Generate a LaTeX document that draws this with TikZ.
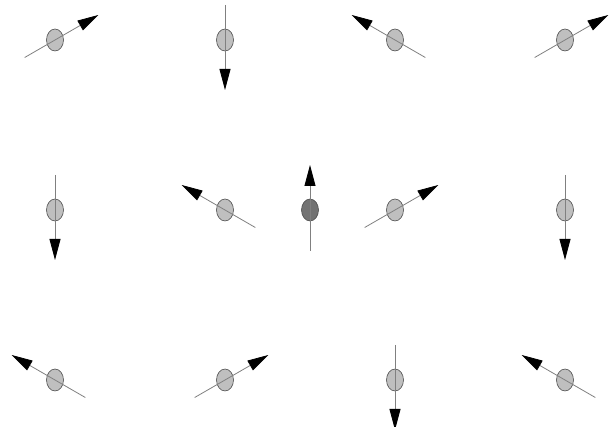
\documentclass[tikz,border=0pt]{standalone}
\usetikzlibrary{arrows.meta, shapes.geometric}
\begin{document}
\begin{tikzpicture}[
    x=1pt, y=1pt,
    site/.style={draw=black!70, ellipse, fill=black!25, minimum width=17pt,
                 minimum height=22pt, inner sep=0pt, line width=0.6pt},
    centre/.style={site, fill=black!55},
    spinarrow/.style={draw=black!50, line width=0.8pt,
                      -{Triangle[length=21pt, width=11pt, color=black]}},
]
\useasboundingbox (0,0) rectangle (613,427);

% --- Lattice spins (name / x / y from top / angle) ---
\foreach \name/\px/\py/\ang in {
    a1/55/40/30, a2/225/40/-90, a3/395/40/150, a4/565/40/30,
    b1/55/210/-90, b2/225/210/150, b4/395/210/30, b5/565/210/-90,
    c1/55/380/150, c2/225/380/30, c3/395/380/-90, c4/565/380/150}{
  \node[site] (\name) at (\px, 427-\py) {};
  \draw[spinarrow] ([shift={(\ang+180:35)}]\name.center)
    -- ([shift={(\ang:50)}]\name.center);
}

% --- Central spin ---
\node[centre] (b3) at (310, 427-210) {};
\draw[spinarrow] ([shift={(0,-41)}]b3.center) -- ([shift={(0,45)}]b3.center);
\end{tikzpicture}
\end{document}
